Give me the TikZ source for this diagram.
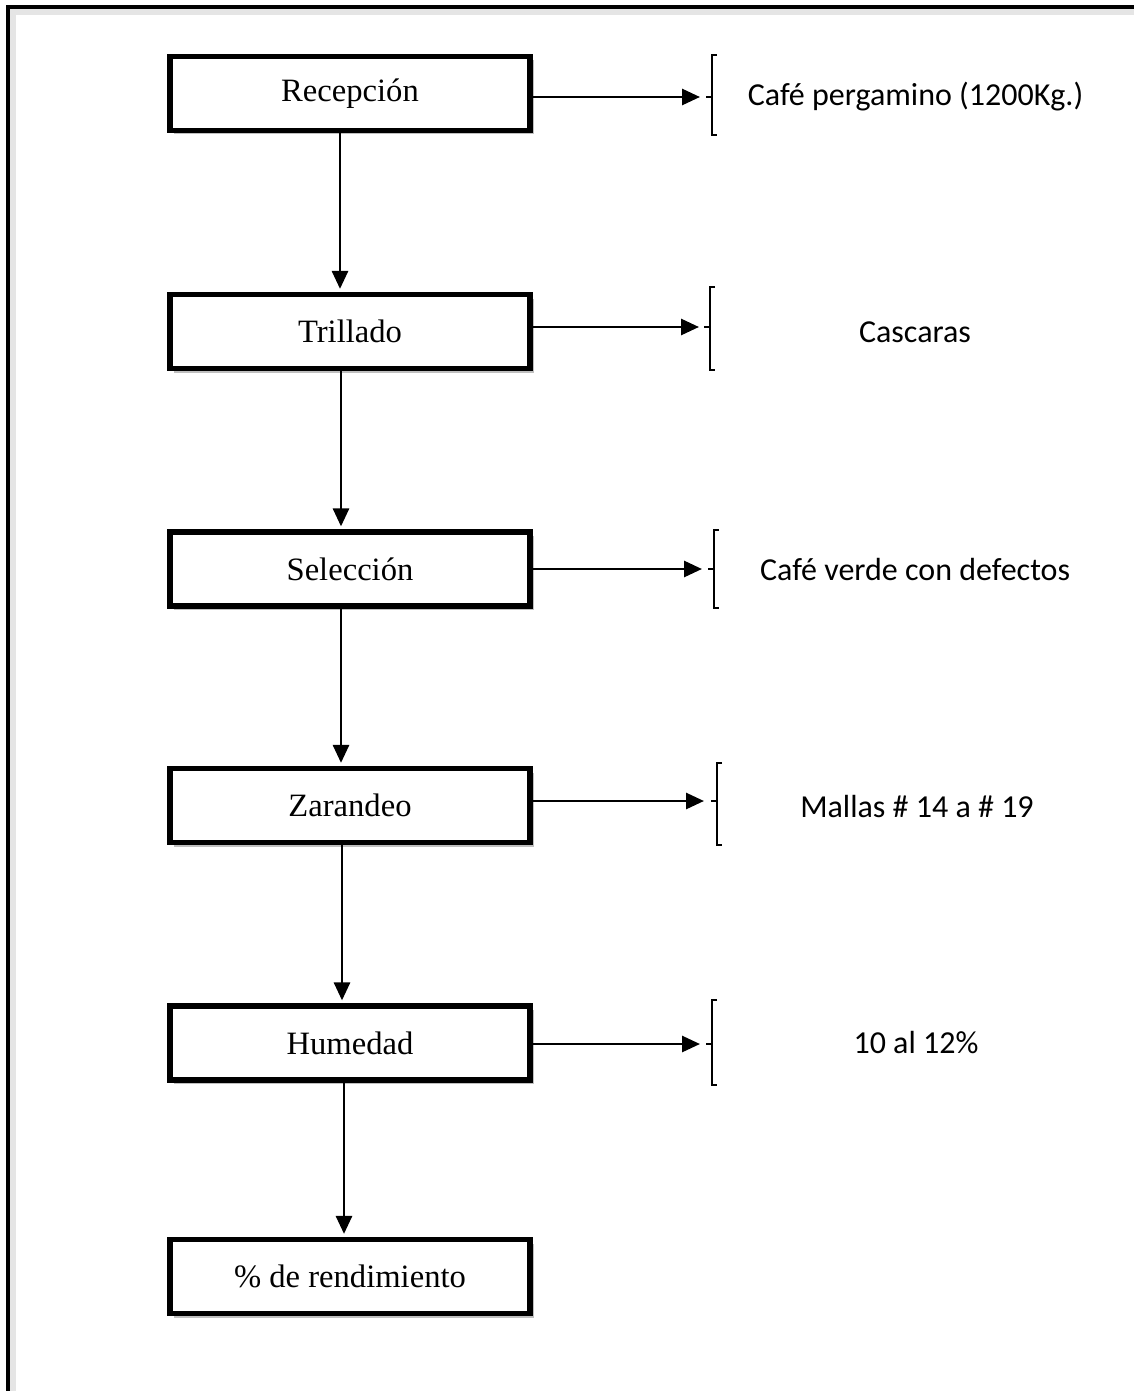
\documentclass[tikz,border=0pt]{standalone}
\usepackage{fontspec}
\setmainfont{Liberation Serif}
\newfontfamily\calib{Carlito}
\usetikzlibrary{arrows.meta,shadows}
\tikzset{
  proc/.style={draw, line width=2.8pt, fill=white, minimum width=180pt, minimum height=37pt,
    inner sep=0pt, font=\fontsize{16.3}{19}\selectfont,
    drop shadow={shadow xshift=2pt, shadow yshift=-2pt, opacity=0.25, fill=black}},
  arr/.style={line width=1.4pt, -{Triangle[length=9pt,width=8pt]}},
  brk/.style={line width=0.7pt},
  note/.style={font=\calib\fontsize{16}{19}\selectfont, inner sep=0pt},
  frame/.style={line width=1.6pt}
}
\begin{document}
\begin{tikzpicture}[x=0.5pt,y=-0.5pt]
\useasboundingbox (0,0) rectangle (1134,1391);
\begin{scope}
  \clip (0,0) rectangle (1134,1391);
  \draw[black!10, line width=3pt] (13,1400) -- (13,12) -- (1140,12);
  \draw[frame] (8,1400) -- (8,7) -- (1140,7);
\end{scope}

% process boxes
\node[proc] (rec) at (350,93.5) {Recepción};
\node[proc] (tri) at (350,331.5) {Trillado};
\node[proc] (sel) at (350,569) {Selección};
\node[proc] (zar) at (350,805.5) {Zarandeo};
\node[proc] (hum) at (350,1043) {Humedad};
\node[proc] (ren) at (350,1276.5) {\% de rendimiento};

% vertical arrows
\draw[arr, shorten >=1.4pt] ([xshift=-5pt]rec.south) -- ([xshift=-5pt]tri.north);
\draw[arr, shorten >=1.4pt] ([xshift=-4.5pt]tri.south) -- ([xshift=-4.5pt]sel.north);
\draw[arr, shorten >=1.4pt] ([xshift=-4.5pt]sel.south) -- ([xshift=-4.5pt]zar.north);
\draw[arr, shorten >=1.4pt] ([xshift=-4pt]zar.south) -- ([xshift=-4pt]hum.north);
\draw[arr, shorten >=1.4pt] ([xshift=-3pt]hum.south) -- ([xshift=-3pt]ren.north);

% bracket tick points
\coordinate (t1) at (700,97);
\coordinate (t2) at (699,327);
\coordinate (t3) at (702,569);
\coordinate (t4) at (704,801);
\coordinate (t5) at (700,1044);

% horizontal arrows
\draw[arr] (rec.east |- t1) -- (t1);
\draw[arr] (tri.east |- t2) -- (t2);
\draw[arr] (sel.east |- t3) -- (t3);
\draw[arr] (zar.east |- t4) -- (t4);
\draw[arr] (hum.east |- t5) -- (t5);

% brackets
\draw[brk] (717,55) -- (712,55) -- (712,135) -- (717,135);
\draw[brk] (706,97) -- (712,97);
\draw[brk] (715,287) -- (710,287) -- (710,370) -- (715,370);
\draw[brk] (704,327) -- (710,327);
\draw[brk] (719,530) -- (714,530) -- (714,608) -- (719,608);
\draw[brk] (708,569) -- (714,569);
\draw[brk] (722,763) -- (717,763) -- (717,845) -- (722,845);
\draw[brk] (711,801) -- (717,801);
\draw[brk] (717,1000) -- (712,1000) -- (712,1085) -- (717,1085);
\draw[brk] (706,1044) -- (712,1044);

% notes
\node[note] (n1) at (915.5,97) {Café pergamino (1200Kg.)};
\node[note] (n2) at (915,332) {Cascaras};
\node[note] (n3) at (915,570) {Café verde con defectos};
\node[note] (n4) at (917,806) {Mallas \# 14 a \# 19};
\node[note] (n5) at (916,1043) {10 al 12\%};
\end{tikzpicture}
\end{document}
